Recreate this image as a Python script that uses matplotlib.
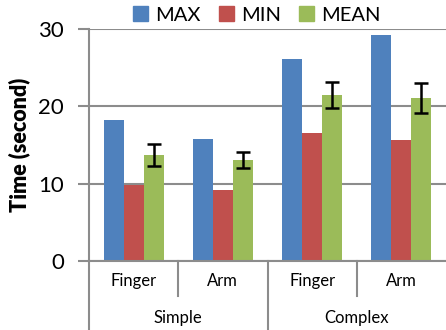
import numpy as np
import matplotlib
matplotlib.use("Agg")
from matplotlib import pyplot as plt
from matplotlib.patches import Patch

# data
groups = ["Simple", "Complex"]
parts = ["Finger", "Arm", "Finger", "Arm"]
max_vals = [18.2, 15.8, 26.1, 29.2]
min_vals = [9.8, 9.2, 16.6, 15.7]
mean_vals = [13.7, 13.1, 21.5, 21.1]
mean_err = [1.4, 1.05, 1.7, 1.9]

colors = ["#4F81BD", "#C0504D", "#9BBB59"]
grid_c = "#8C8C8C"

plt.rcParams['font.family'] = ['Lato', 'DejaVu Sans']

fig = plt.figure(figsize=(4.46, 3.30), dpi=100)
ax = fig.add_axes([89 / 446, 69 / 330, 357 / 446, 232 / 330])

x = np.arange(len(parts))
w = 0.225
ax.bar(x - w, max_vals, w, color=colors[0], label="MAX", zorder=3)
ax.bar(x, min_vals, w, color=colors[1], label="MIN", zorder=3)
ax.bar(x + w, mean_vals, w, color=colors[2], label="MEAN", zorder=3)
ax.errorbar(x + w, mean_vals, yerr=mean_err, fmt="none", ecolor="black",
            elinewidth=1.8, capsize=5, capthick=1.8, zorder=4)

ax.set_xlim(-0.5, len(parts) - 0.5)
ax.set_ylim(0, 30)
ax.set_yticks([0, 10, 20, 30])
ax.tick_params(axis="y", labelsize=16, length=8, width=1.5, color=grid_c, pad=10)
ax.yaxis.grid(True, color=grid_c, linewidth=1.5, zorder=0)
ax.set_xticks([])
for s in ["top", "right", "bottom"]:
    ax.spines[s].set_visible(False)
ax.spines["left"].set_color(grid_c)
ax.spines["left"].set_linewidth(1.5)
ax.set_ylabel("Time (second)", fontsize=15.5, fontweight="heavy", labelpad=6)

# category axis below the plot
tr = ax.get_xaxis_transform()
ax.plot([-0.5, 3.5], [0, 0], color=grid_c, lw=1.5, transform=tr, clip_on=False, zorder=5)
ax.plot([-0.5, -0.5], [0, -0.30], color=grid_c, lw=1.5, transform=tr, clip_on=False)
ax.plot([1.5, 1.5], [0, -0.30], color=grid_c, lw=1.5, transform=tr, clip_on=False)
for sx in [0.5, 2.5]:
    ax.plot([sx, sx], [0, -0.151], color=grid_c, lw=1.5, transform=tr, clip_on=False)
for i, p in enumerate(parts):
    ax.text(x[i], -0.085, p, transform=tr, ha="center", va="center", fontsize=12)
for j, g in enumerate(groups):
    ax.text(2 * j + 0.5, -0.245, g, transform=tr, ha="center", va="center", fontsize=12)

handles = [Patch(color=c) for c in colors]
fig.legend(handles, ["MAX", "MIN", "MEAN"], loc="center", bbox_to_anchor=(257 / 446, 1 - 15 / 330),
           ncol=3, frameon=False, fontsize=14.5, handlelength=0.75, handleheight=0.75,
           handletextpad=0.35, columnspacing=0.9, borderpad=0)

fig.savefig("out.png", dpi=100)
